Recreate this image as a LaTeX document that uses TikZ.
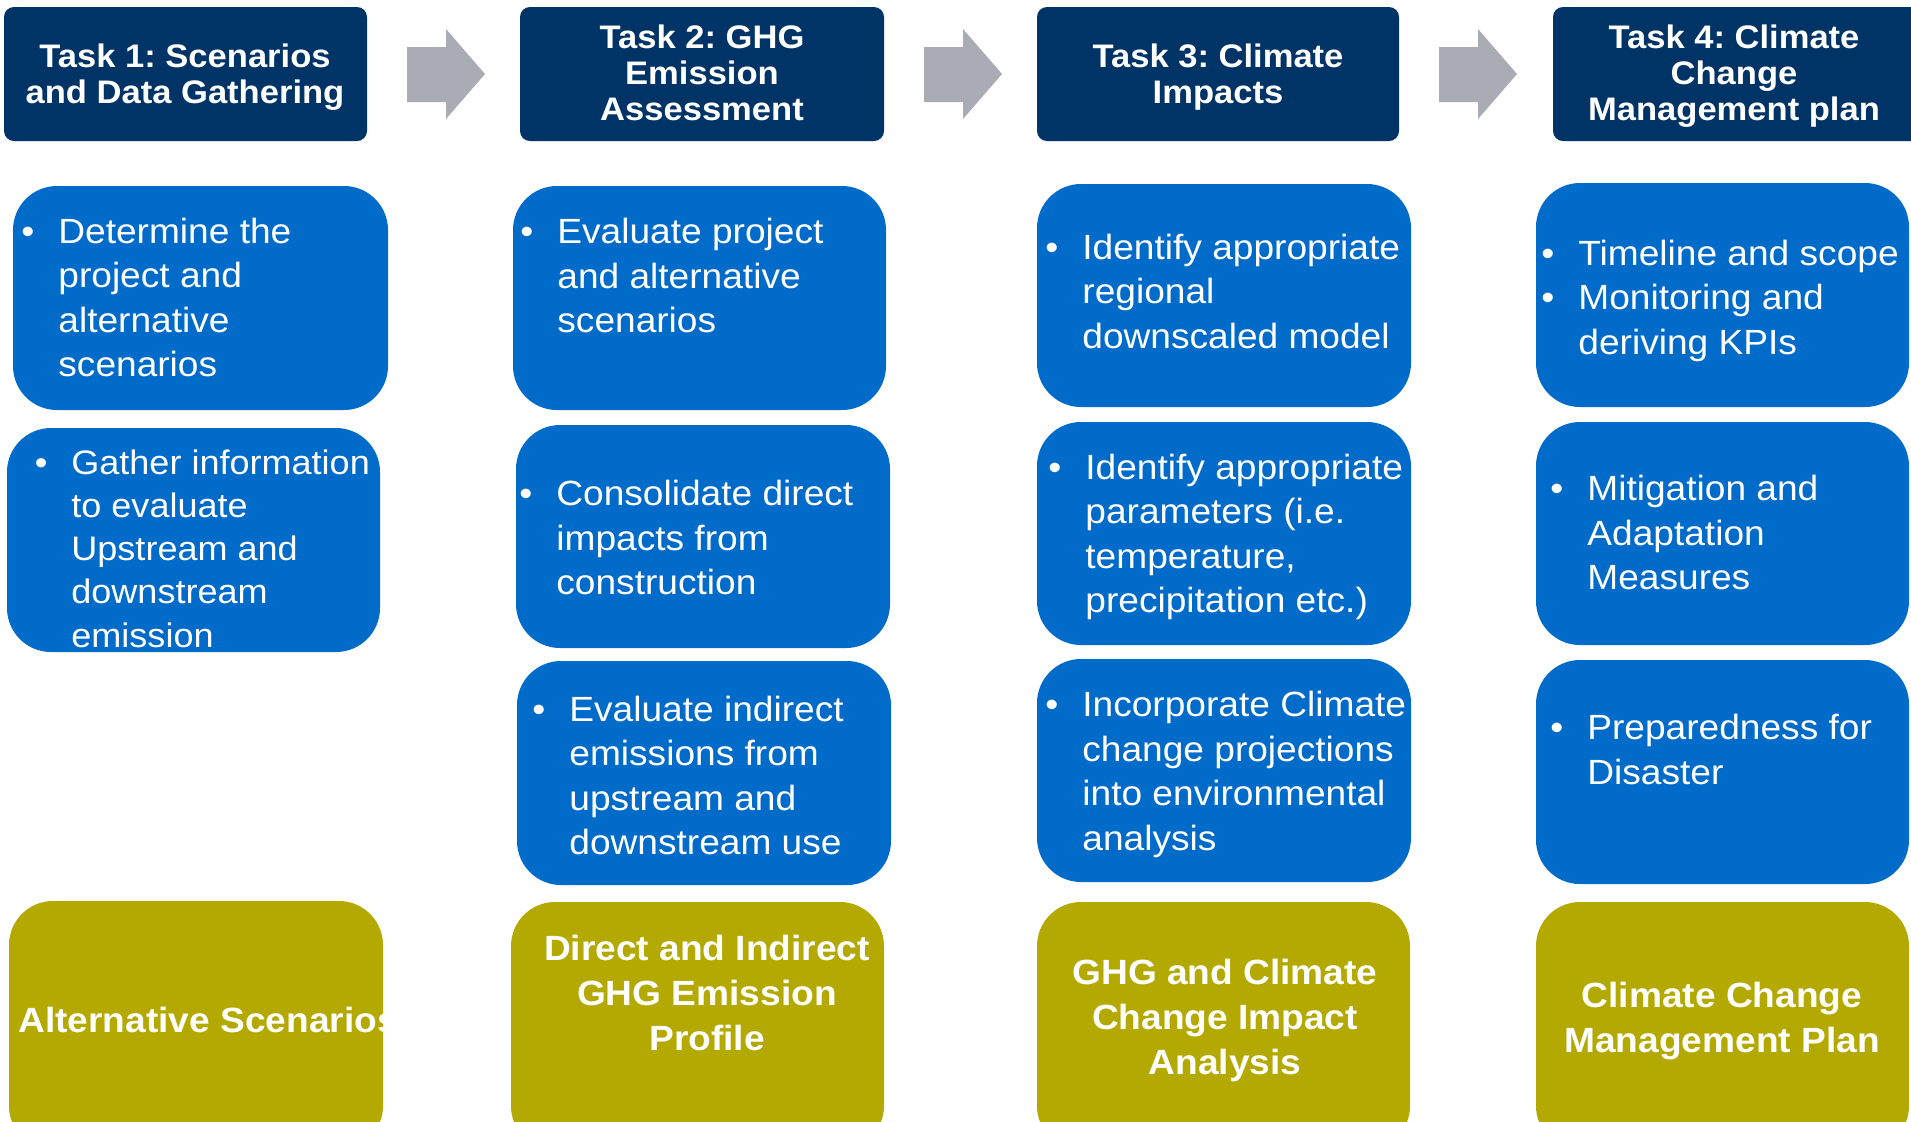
\documentclass[tikz,border=0pt]{standalone}
\usepackage{fontspec}
\setmainfont[FakeStretch=1.06]{Liberation Sans}
\frenchspacing
\definecolor{taskNavy}{RGB}{0,51,102}
\definecolor{cardBlue}{RGB}{0,107,201}
\definecolor{resultOlive}{RGB}{179,169,0}
\definecolor{flowGray}{RGB}{169,171,181}
% stacked lines whose baseline is the first line's baseline
\newcommand\stackL[1]{\begin{tabular}[t]{@{}l@{}}#1\end{tabular}}
\newcommand\stackC[1]{\begin{tabular}[t]{@{}c@{}}#1\end{tabular}}
\newcommand\bul{\llap{\textbullet\hspace{12pt}}}
\begin{document}
\begin{tikzpicture}[x=0.5pt,y=-0.5pt,
  header/.style={fill=taskNavy, rounded corners=5pt},
  card/.style={fill=cardBlue, rounded corners=22pt},
  result/.style={fill=resultOlive, rounded corners=22pt},
  flow/.style={fill=flowGray},
  headtext/.style={inner sep=0pt, anchor=base, text=white,
    font=\fontsize{16.3}{18}\selectfont\bfseries},
  cardtext/.style={inner sep=0pt, anchor=base west, text=white,
    font=\fontsize{17.5}{22.25}\selectfont},
  tightcardtext/.style={cardtext, font=\fontsize{17}{21.65}\selectfont},
  resulttext/.style={inner sep=0pt, anchor=base, text=white,
    font=\fontsize{17.5}{22.5}\selectfont\bfseries},
]
\useasboundingbox (0,0) rectangle (1911,1121);
\clip (0,0) rectangle (1911,1121);

% ---- task headers ----
\path[header] (4,7) rectangle (367,141);
\path[header] (520,7) rectangle (884,141);
\path[header] (1037,7) rectangle (1399,141);
\path[header] (1553,7) rectangle (1925,141);
\node[headtext] (h1) at (185,67) {\stackC{Task 1: Scenarios\\and Data Gathering}};
\node[headtext] (h2) at (702,48) {\stackC{Task 2: GHG\\Emission\\Assessment}};
\node[headtext] (h3) at (1218,67) {\stackC{Task 3: Climate\\Impacts}};
\node[headtext] (h4) at (1734,48) {\stackC{Task 4: Climate\\Change\\Management plan}};

% ---- block arrows between the headers ----
\foreach \ax in {407,924,1439}
  \fill[flowGray] (\ax,47) -- (\ax+39,47) -- (\ax+39,29) -- (\ax+78,74)
    -- (\ax+39,119) -- (\ax+39,102) -- (\ax,102) -- cycle;

% ---- activity cards ----
\path[card] (13,186) rectangle (388,410);
\path[card] (7,428) rectangle (380,652);
\path[card] (513,186) rectangle (886,410);
\path[card] (516,425) rectangle (890,648);
\path[card] (517,661) rectangle (891,885);
\path[card] (1037,184) rectangle (1411,407);
\path[card] (1037,422) rectangle (1411,645);
\path[card] (1037,659) rectangle (1411,882);
\path[card] (1536,183) rectangle (1909,407);
\path[card] (1536,422) rectangle (1909,645);
\path[card] (1536,660) rectangle (1909,884);

\node[cardtext] (c1a) at (58,243) {\stackL{\bul Determine the\\project and\\alternative\\scenarios}};
\node[tightcardtext] (c1b) at (71,474) {\stackL{\bul Gather information\\to evaluate\\Upstream and\\downstream\\emission}};
\node[cardtext] (c2a) at (557,243.5) {\stackL{\bul Evaluate project\\and alternative\\scenarios}};
\node[cardtext] (c2b) at (556,505.5) {\stackL{\bul Consolidate direct\\impacts from\\construction}};
\node[cardtext] (c2c) at (569,721) {\stackL{\bul Evaluate indirect\\emissions from\\upstream and\\downstream use}};
\node[cardtext] (c3a) at (1082,259) {\stackL{\bul Identify appropriate\\regional\\downscaled model}};
\node[cardtext] (c3b) at (1085,479) {\stackL{\bul Identify appropriate\\parameters (i.e.\\temperature,\\precipitation etc.)}};
\node[cardtext] (c3c) at (1082,716.5) {\stackL{\bul Incorporate Climate\\change projections\\into environmental\\analysis}};
\node[cardtext] (c4a) at (1578,265) {\stackL{\bul Timeline and scope\\\bul Monitoring and\\deriving KPIs}};
\node[cardtext] (c4b) at (1587,500.5) {\stackL{\bul Mitigation and\\Adaptation\\Measures}};
\node[cardtext] (c4c) at (1587,739.5) {\stackL{\bul Preparedness for\\Disaster}};

% ---- deliverables ----
\path[result] (9,901) rectangle (383,1150);
\path[result] (511,902) rectangle (884,1150);
\path[result] (1037,902) rectangle (1410,1150);
\path[result] (1536,902) rectangle (1909,1150);
\begin{scope}
  % the first label runs past its box and is cut at the box edge
  \clip (9,901) rectangle (383,1150);
  \node[resulttext, anchor=base west] (r1) at (18,1032) {Alternative Scenarios};
\end{scope}
\node[resulttext] (r2) at (707,960.5) {\stackC{Direct and Indirect\\GHG Emission\\Profile}};
\node[resulttext] (r3) at (1225,984) {\stackC{GHG and Climate\\Change Impact\\Analysis}};
\node[resulttext] (r4) at (1722,1007) {\stackC{Climate Change\\Management Plan}};
\end{tikzpicture}
\end{document}
